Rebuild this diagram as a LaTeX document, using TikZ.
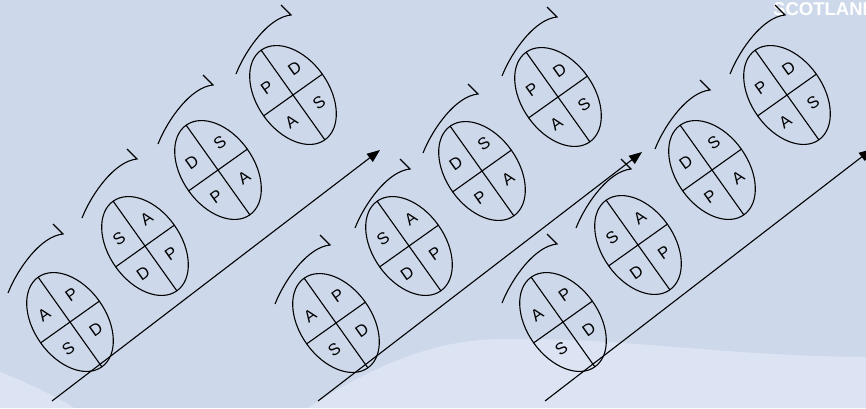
\documentclass[tikz,border=0pt]{standalone}
\usepackage{fontspec}
\setmainfont{Liberation Sans}
\usetikzlibrary{arrows.meta}
\definecolor{bgblue}{HTML}{CDD9EB}
\definecolor{bglight}{HTML}{DCE4F4}
\tikzset{
  pdsaline/.style={line width=1.1pt, black},
  quadlabel/.style={font=\fontsize{16.5}{16.5}\selectfont, inner sep=0pt, rotate=35.4},
  flowarrow/.style={line width=1.1pt, black, -{Triangle[length=13pt,width=10pt]}},
  brandtext/.style={font=\bfseries\fontsize{18.5}{18.5}\selectfont, text=white, inner sep=0pt, anchor=base west},
}
% name, x, y, top, left, right, bottom, arc dx, arc dy
\newcommand{\pdsacell}[9]{%
  \coordinate (#1) at (#2,#3);
  \begin{scope}[shift={(#2,#3)}, shift={(#8,#9)}]
    \draw[pdsaline] (-57,-21) .. controls (-47,-46) and (-24,-78) .. (-2,-80) -- (-12,-90);
  \end{scope}
  \begin{scope}[shift={(#2,#3)}, rotate=-54.6]
    \draw[pdsaline] (0pt,0pt) ellipse [x radius=55pt, y radius=36pt];
    \draw[pdsaline] (-55pt,0pt) -- (55pt,0pt);
    \draw[pdsaline] (0pt,-36pt) -- (0pt,36pt);
    \node[quadlabel] (#1-t) at (-21pt,17pt) {#4};
    \node[quadlabel] (#1-l) at (-21pt,-17pt) {#5};
    \node[quadlabel] (#1-r) at (21pt,17pt) {#6};
    \node[quadlabel] (#1-b) at (21pt,-17pt) {#7};
  \end{scope}}
\begin{document}
\begin{tikzpicture}[x=1pt, y=-1pt]
  \useasboundingbox (0,0) rectangle (866,408);
  \clip (0,0) rectangle (866,408);
  \fill[bgblue] (0,0) rectangle (866,408);
  \fill[bglight] (0,372) .. controls (30,384) and (55,396) .. (74,408) -- (0,408) -- cycle;
  \fill[bglight] (308,408) .. controls (370,368) and (430,340) .. (500,339)
     .. controls (620,337) and (720,356) .. (866,357) -- (866,408) -- cycle;
  \node[brandtext] (brand) at (773,15) {SCOTLAND};
  % group 1
  \pdsacell{a1}{70}{322}{P}{A}{D}{S}{-5}{-8}
  \pdsacell{a2}{145}{246}{A}{S}{P}{D}{-6}{-7}
  \pdsacell{a3}{218}{170}{S}{D}{A}{P}{-3}{-5}
  \pdsacell{a4}{293}{95}{D}{P}{S}{A}{0}{0}
  % group 2
  \pdsacell{b1}{336}{323}{P}{A}{D}{S}{-4}{2}
  \pdsacell{b2}{409}{246}{A}{S}{P}{D}{3}{3}
  \pdsacell{b3}{482}{171}{S}{D}{A}{P}{-2}{3}
  \pdsacell{b4}{558}{97}{D}{P}{S}{A}{1}{0}
  % group 3
  \pdsacell{c1}{563}{322}{P}{A}{D}{S}{-4}{2}
  \pdsacell{c2}{638}{245}{A}{S}{P}{D}{-5}{4}
  \pdsacell{c3}{712}{170}{S}{D}{A}{P}{0}{0}
  \pdsacell{c4}{787}{95}{D}{P}{S}{A}{0}{0}
  % arrows
  \coordinate (as) at (52,401);  \coordinate (ae) at (380,150);
  \coordinate (bs) at (318,401); \coordinate (be) at (642,152);
  \coordinate (cs) at (545,401); \coordinate (ce) at (872,149);
  \draw[flowarrow] (as) -- (ae);
  \draw[flowarrow] (bs) -- (be);
  \draw[flowarrow] (cs) -- (ce);
\end{tikzpicture}
\end{document}
